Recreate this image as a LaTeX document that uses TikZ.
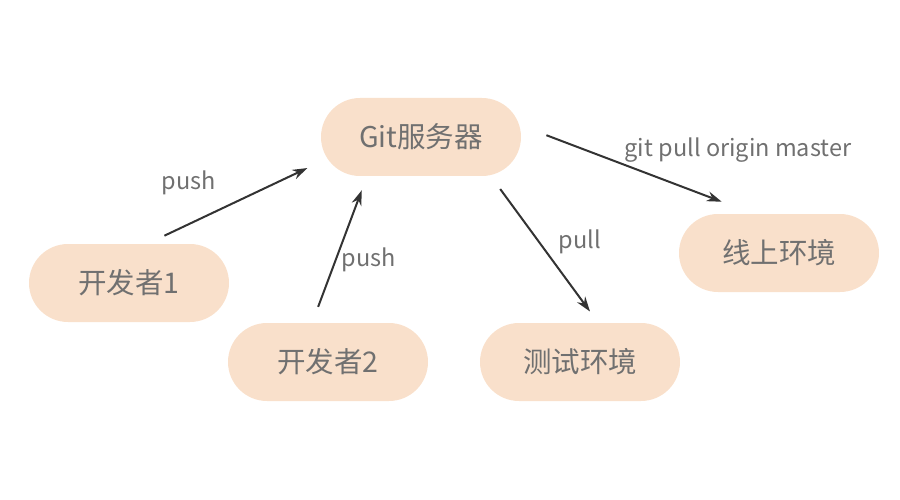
\documentclass[tikz,border=0pt]{standalone}
\usepackage{fontspec}
\setmainfont{Noto Sans CJK SC}
\usetikzlibrary{shapes.misc,arrows.meta}
\definecolor{peach}{HTML}{F9E0CB}
\definecolor{txtgray}{HTML}{707070}
\definecolor{arrgray}{HTML}{333333}
\tikzset{
  pill/.style={rounded rectangle, fill=peach, minimum width=200, minimum height=78, inner sep=0pt, text=txtgray, font=\fontsize{28.5}{31}\selectfont},
  lbl/.style={text=txtgray, font=\fontsize{23.5}{26}\selectfont},
  arr/.style={draw=arrgray, line width=2, -{Stealth[length=15,width=10]}}
}

\begin{document}
\begin{tikzpicture}[x=1pt,y=-1pt]
			\useasboundingbox (0,0) rectangle (900,500);
			\node[pill] (git) at (421,137) {Git服务器};
			\node[pill] (dev1) at (129,283) {开发者1};
			\node[pill] (dev2) at (328,362) {开发者2};
			\node[pill] (test) at (580,362) {测试环境};
			\node[pill] (live) at (779,253) {线上环境};
			\draw[arr, shorten <=19, shorten >=22] (dev1.65) -- (git.193);
			\draw[arr, shorten <=17, shorten >=15] (dev2.112) -- (git.216);
			\draw[arr, shorten <=17, shorten >=14] (git.331.5) -- (test.65);
			\draw[arr, shorten <=29, shorten >=34] (git.7.2) -- (live.123);
			\node[lbl] (push1) at (189,183) {push};
			\node[lbl] (push2) at (369,260) {push};
			\node[lbl] (pull) at (580,242) {pull};
			\node[lbl] (gpom) at (738,150) {git pull origin master};
		\end{tikzpicture}
\end{document}
